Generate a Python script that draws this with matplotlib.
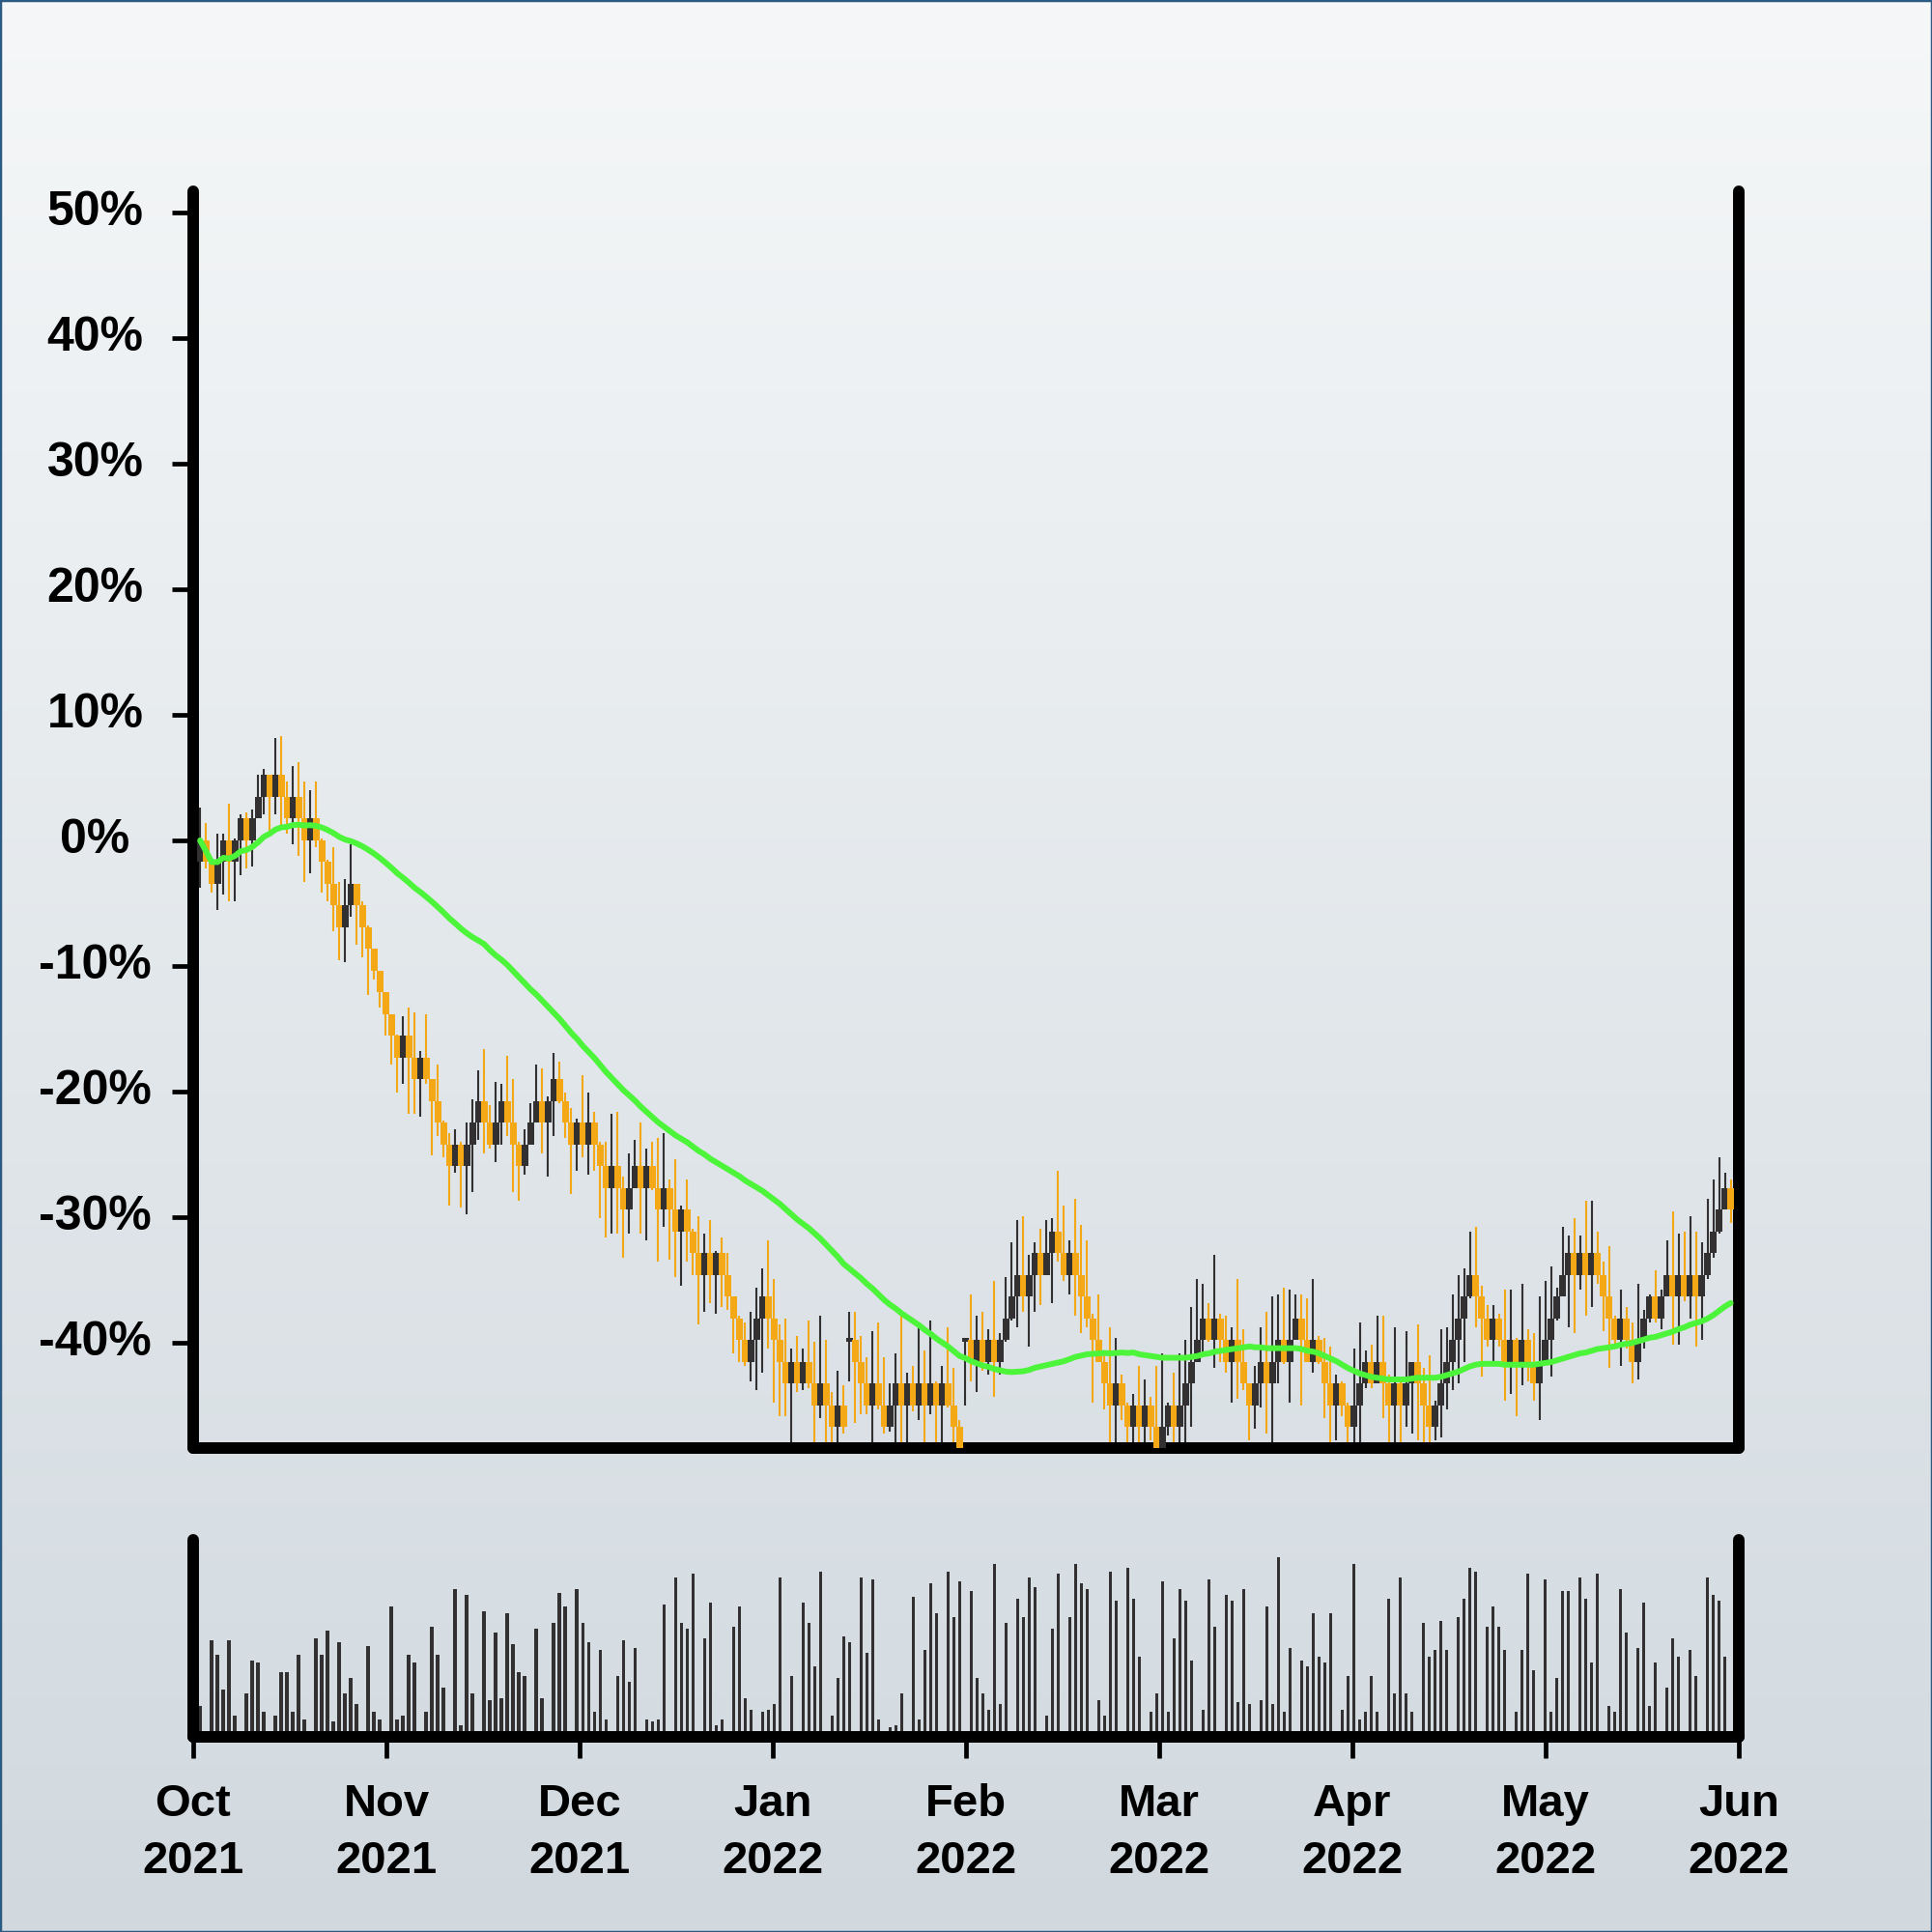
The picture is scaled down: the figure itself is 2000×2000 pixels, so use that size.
import numpy as np
import pandas as pd
import matplotlib
matplotlib.use("Agg")
import matplotlib.pyplot as plt
from matplotlib.colors import LinearSegmentedColormap

STEP = 1.73  # percent per candle body

# close levels (in STEP units), one per candle
close_lv = [
    0, -1, -2, -1, 0, -1, 0, 1, 0, 1,
    2, 3, 2, 3, 2, 1, 2, 1, 0, 1,
    0, -1, -2, -3, -4, -3, -2, -3, -4, -5,
    -6, -7, -8, -9, -10, -9, -10, -11, -10, -11,
    -12, -13, -14, -15, -14, -15, -14, -13, -12, -13,
    -14, -13, -12, -13, -14, -15, -14, -13, -12, -13,
    -12, -11, -12, -13, -14, -13, -14, -13, -14, -15,
    -16, -15, -16, -17, -16, -15, -16, -15, -16, -17,
    -16, -17, -18, -17, -18, -19, -20, -19, -20, -19,
    -20, -21, -22, -23, -24, -23, -22, -21, -22, -23,
    -24, -25, -24, -25, -24, -25, -26, -25, -26, -27,
    -26, -27, -23, -24, -25, -26, -25, -26, -27, -26,
    -25, -26, -25, -26, -25, -26, -25, -26, -25, -26,
    -27, -28, -23, -24, -23, -24, -23, -24, -23, -22,
    -21, -20, -21, -20, -19, -20, -19, -18, -19, -20,
    -19, -20, -21, -22, -23, -24, -25, -26, -25, -26,
    -27, -26, -27, -26, -27, -28, -27, -26, -27, -26,
    -25, -24, -23, -22, -23, -22, -23, -24, -23, -24,
    -25, -26, -25, -24, -25, -24, -23, -24, -23, -22,
    -23, -24, -23, -24, -25, -26, -25, -26, -27, -26,
    -25, -24, -25, -24, -25, -26, -25, -26, -25, -24,
    -25, -26, -27, -26, -25, -24, -23, -22, -21, -20,
    -21, -22, -23, -22, -23, -24, -23, -24, -23, -24,
    -25, -24, -23, -22, -21, -20, -19, -20, -19, -20,
    -19, -20, -21, -22, -23, -22, -23, -24, -23, -22,
    -21, -22, -21, -20, -21, -20, -21, -20, -21, -20,
    -19, -18, -17, -16, -17,
]

high_lv = [
    1.5, 0.8, -0.95, 0.3, 0.3, 1.7, 0.1, 1.2, 1.3, 1.4,
    3.0, 3.3, 3.0, 4.7, 4.8, 2.7, 3.4, 3.6, 2.7, 2.3,
    2.7, 0.1, -0.9, -0.3, -1.9, -1.8, -0.2, -2.0, -2.8, -3.9,
    -5.0, -6.0, -7.0, -8.0, -8.95, -8.1, -7.7, -7.9, -9.7, -8.0,
    -11.0, -10.3, -12.9, -13.5, -13.3, -13.9, -13.0, -11.9, -10.6, -9.6,
    -12.2, -11.1, -11.2, -9.9, -11.0, -13.9, -13.3, -12.1, -10.3, -10.5,
    -11.8, -9.8, -10.2, -11.6, -12.3, -12.8, -10.8, -11.6, -12.5, -13.9,
    -13.9, -12.6, -12.5, -15.5, -14.4, -13.8, -13.0, -14.2, -13.9, -13.7,
    -13.5, -15.6, -14.7, -16.8, -15.6, -17.9, -17.3, -18.1, -17.5, -18.9,
    -18.3, -19.0, -21.0, -21.9, -22.2, -21.7, -20.6, -19.7, -18.4, -20.2,
    -22.3, -22.0, -23.4, -22.8, -23.4, -22.1, -23.1, -21.9, -23.0, -25.4,
    -24.4, -25.1, -21.7, -21.7, -22.8, -23.8, -22.6, -22.2, -23.8, -25.0,
    -23.6, -21.8, -24.5, -24.2, -22.3, -23.5, -22.1, -24.9, -24.2, -22.4,
    -24.3, -26.7, -22.9, -20.9, -21.9, -21.7, -22.5, -20.3, -22.7, -20.1,
    -18.5, -17.5, -17.3, -19.1, -18.5, -17.9, -17.5, -17.4, -15.2, -16.8,
    -18.4, -16.5, -17.7, -18.4, -21.8, -20.9, -23.7, -22.4, -22.9, -24.6,
    -25.9, -25.5, -24.2, -24.8, -25.6, -24.2, -23.6, -25.9, -24.5, -23.6,
    -23.0, -21.5, -20.2, -20.4, -21.3, -19.1, -21.8, -21.9, -22.4, -20.2,
    -22.5, -25.0, -24.2, -22.4, -21.7, -21.0, -20.9, -20.6, -20.7, -20.9,
    -20.9, -21.1, -20.2, -22.8, -22.9, -23.3, -24.6, -24.9, -25.9, -23.4,
    -22.2, -23.5, -23.2, -21.9, -21.9, -24.6, -22.4, -24.9, -22.6, -24.0,
    -22.3, -24.3, -23.7, -25.8, -22.5, -22.4, -20.9, -20.0, -19.7, -18.0,
    -17.8, -20.5, -21.4, -21.4, -21.8, -20.7, -20.7, -22.9, -20.4, -22.5,
    -22.7, -21.0, -20.3, -19.6, -20.6, -17.8, -18.2, -17.4, -18.2, -16.6,
    -16.6, -18.0, -19.4, -18.7, -21.9, -20.7, -21.5, -22.2, -20.4, -21.6,
    -20.9, -19.8, -20.7, -18.4, -17.1, -18.1, -18.0, -17.3, -18.0, -18.5,
    -16.5, -15.6, -14.6, -15.3, -15.6,
]

low_lv = [
    -2.2, -1.3, -2.4, -3.2, -2.5, -2.8, -2.8, -1.6, -1.3, -1.2,
    1.0, 1.2, 0.4, 1.2, 0.7, 0.3, -0.2, -0.7, -1.9, -1.5,
    -0.3, -2.4, -2.8, -4.2, -5.5, -5.6, -3.5, -4.8, -5.4, -7.1,
    -6.4, -7.7, -9.0, -10.3, -11.6, -11.2, -12.6, -12.6, -12.7, -11.2,
    -14.5, -13.6, -14.6, -16.8, -15.3, -16.9, -17.2, -16.2, -13.8, -14.4,
    -14.2, -14.8, -14.0, -13.6, -16.2, -16.6, -15.4, -14.0, -12.9, -14.4,
    -15.5, -13.6, -12.1, -13.7, -16.3, -15.2, -14.6, -15.4, -15.2, -17.4,
    -18.3, -18.1, -18.1, -19.2, -18.1, -16.0, -18.1, -18.4, -16.1, -19.4,
    -17.8, -19.3, -20.1, -20.5, -19.4, -20.0, -22.3, -21.7, -21.3, -21.8,
    -21.5, -21.6, -23.6, -24.0, -24.2, -24.9, -25.3, -24.5, -23.4, -25.9,
    -26.5, -26.5, -27.7, -25.4, -25.3, -25.2, -27.7, -26.6, -27.7, -27.7,
    -27.7, -27.3, -24.9, -26.8, -26.4, -26.4, -27.7, -26.2, -27.3, -27.2,
    -27.7, -27.7, -27.7, -26.3, -26.7, -27.7, -26.4, -27.7, -27.7, -26.1,
    -27.7, -28.2, -26.0, -24.9, -25.4, -24.4, -24.6, -25.6, -24.6, -23.1,
    -22.1, -22.4, -21.7, -23.3, -21.7, -21.4, -20.0, -21.3, -19.4, -20.3,
    -20.9, -21.9, -22.7, -22.4, -25.9, -24.0, -26.2, -27.8, -27.8, -26.7,
    -27.8, -27.8, -27.8, -27.8, -27.6, -28.3, -28.3, -27.4, -27.8, -27.8,
    -27.7, -27.0, -24.0, -23.7, -23.1, -24.3, -24.0, -24.5, -25.9, -25.7,
    -25.3, -27.6, -27.1, -26.1, -27.3, -27.7, -25.0, -24.1, -25.9, -23.0,
    -26.0, -24.0, -24.5, -24.1, -26.6, -27.8, -27.6, -26.5, -27.7, -27.8,
    -27.8, -25.2, -25.2, -25.0, -26.6, -27.8, -27.7, -27.8, -27.0, -27.3,
    -27.6, -27.8, -27.8, -27.6, -27.5, -26.2, -25.3, -25.0, -24.0, -21.1,
    -22.4, -24.7, -23.3, -24.0, -23.3, -25.8, -25.5, -26.5, -25.1, -24.9,
    -25.8, -26.7, -24.0, -24.7, -22.1, -21.0, -22.4, -22.7, -20.7, -21.9,
    -21.5, -20.4, -22.6, -24.3, -23.3, -24.2, -23.4, -25.0, -24.8, -23.4,
    -22.2, -22.2, -22.5, -21.0, -23.2, -23.2, -21.2, -22.0, -23.3, -23.0,
    -20.2, -19.2, -18.1, -17.0, -17.6,
]

# volume, in percent of the lower panel height
volume = [
    16, 0, 49, 42, 24, 49, 11, 0, 22, 39,
    38, 13, 0, 11, 33, 33, 13, 42, 9, 0,
    50, 42, 54, 8, 48, 22, 30, 17, 0, 46,
    13, 9, 0, 66, 9, 11, 42, 38, 0, 13,
    56, 42, 25, 0, 75, 6, 72, 22, 0, 64,
    19, 53, 20, 63, 47, 33, 31, 0, 55, 20,
    0, 58, 73, 66, 0, 75, 58, 48, 13, 44,
    9, 0, 31, 49, 28, 45, 0, 9, 8, 9,
    67, 0, 81, 58, 55, 83, 0, 50, 68, 6,
    9, 0, 56, 66, 20, 14, 0, 13, 14, 17,
    81, 0, 31, 0, 68, 58, 36, 84, 0, 11,
    30, 51, 48, 0, 81, 43, 80, 9, 0, 5,
    6, 22, 0, 71, 9, 44, 78, 63, 0, 84,
    61, 79, 0, 74, 30, 22, 14, 88, 17, 58,
    0, 70, 61, 81, 76, 0, 11, 55, 83, 0,
    61, 88, 78, 75, 0, 19, 11, 84, 69, 0,
    86, 70, 41, 0, 13, 22, 79, 13, 50, 75,
    69, 39, 0, 14, 80, 56, 0, 72, 69, 18,
    75, 17, 0, 19, 66, 17, 91, 13, 45, 0,
    39, 36, 63, 41, 38, 63, 0, 14, 31, 88,
    9, 13, 31, 13, 0, 70, 22, 81, 22, 13,
    0, 58, 41, 44, 59, 44, 0, 61, 70, 86,
    84, 0, 56, 66, 56, 44, 0, 13, 44, 83,
    34, 0, 80, 13, 30, 74, 74, 0, 81, 70,
    38, 83, 0, 16, 13, 75, 53, 0, 45, 68,
    16, 38, 0, 25, 50, 41, 0, 44, 31, 0,
    81, 72, 69, 41, 0,
]

first_open = -1
doji_idx = [112, 132]  # candles that open where they close

month_labels = ["Oct\n2021", "Nov\n2021", "Dec\n2021", "Jan\n2022", "Feb\n2022",
                "Mar\n2022", "Apr\n2022", "May\n2022", "Jun\n2022"]
y_ticks = [-40, -30, -20, -10, 0, 10, 20, 30, 40, 50]

UP_COL = "#333031"
DOWN_COL = "#f4a816"
LINE_COL = "#4cf43a"

# build OHLC in percent
open_lv = [first_open] + close_lv[:-1]
for i in doji_idx:
    open_lv[i] = close_lv[i]
o = np.array(open_lv, dtype=float) * STEP
c = np.array(close_lv, dtype=float) * STEP
h = np.maximum(np.array(high_lv) * STEP, np.maximum(o, c))
l = np.minimum(np.array(low_lv) * STEP, np.minimum(o, c))
x = np.arange(len(c))
sma = pd.Series(c).rolling(50, min_periods=1).mean()

plt.rcParams['font.family'] = ['Liberation Sans', 'DejaVu Sans']
plt.rcParams['font.weight'] = 'bold'

fig = plt.figure(figsize=(20, 20), dpi=100)

# background gradient
bg = fig.add_axes([0, 0, 1, 1], zorder=-10)
cmap = LinearSegmentedColormap.from_list("bg", ["#f5f7f8", "#d1d9df"])
bg.imshow(np.linspace(0, 1, 256).reshape(-1, 1), aspect='auto', cmap=cmap,
          extent=[0, 1, 0, 1])
bg.axis('off')
fig.patches.append(plt.Rectangle((0, 0), 1, 1, transform=fig.transFigure,
                                 fill=False, edgecolor="#2b5a82", lw=2.5))

ax = fig.add_axes([0.1, 0.2505, 0.8, 0.6505])
axv = fig.add_axes([0.1, 0.1008, 0.8, 0.1022])

cols = [UP_COL if cc >= oo else DOWN_COL for oo, cc in zip(o, c)]
ax.vlines(x, l, h, colors=cols, lw=1.5, zorder=2)
body_h = np.maximum(np.abs(c - o), 0.25)
body_b = np.where(np.abs(c - o) < 0.25, c - 0.125, np.minimum(o, c))
ax.bar(x, body_h, bottom=body_b, width=1.1, color=cols, lw=0, zorder=3)
ax.plot(x, sma, color=LINE_COL, lw=4.3, zorder=5, solid_capstyle='round')

axv.bar(x, volume, width=0.6, color=UP_COL, lw=0)

xlim = (-1.2, 265.4)
for a in (ax, axv):
    a.set_facecolor('none')
    a.set_xlim(*xlim)
    a.spines['top'].set_visible(False)
    for s in ('left', 'right', 'bottom'):
        a.spines[s].set_linewidth(8.6)
        a.spines[s].set_color('black')
        a.spines[s].set_capstyle('round')

ax.set_ylim(-48.4, 51.7)
ax.set_yticks(y_ticks)
ax.set_yticklabels([f"{v}%" for v in y_ticks], ha='center', va='center')
ax.tick_params(axis='y', length=16, width=3.4, pad=57, labelsize=36, color='black')
ax.tick_params(axis='x', bottom=False, labelbottom=False)

axv.set_yticks([])
axv.set_xticks(np.linspace(xlim[0], xlim[1], 9))
axv.set_xticklabels(month_labels, fontsize=34, linespacing=1.45)
axv.tick_params(axis='x', length=16, width=3.4, pad=18, color='black')
axv.set_ylim(0, 100)

fig.savefig("out.png", dpi=100)
